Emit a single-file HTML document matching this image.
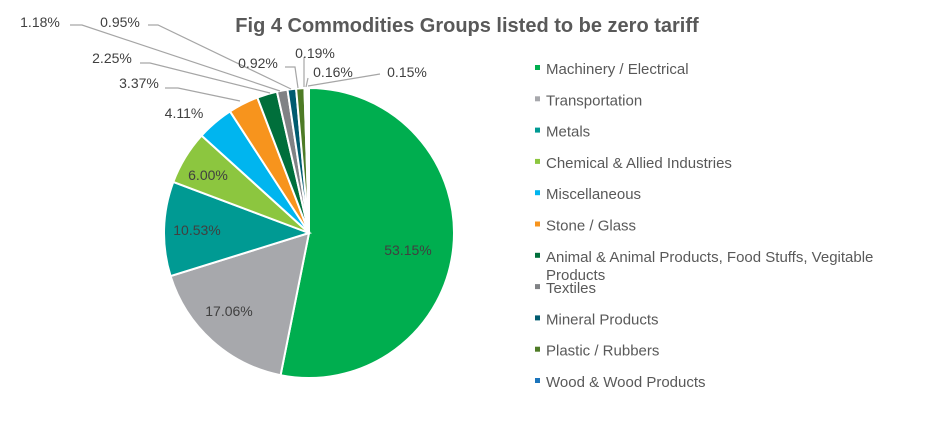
<!DOCTYPE html><html><head><style>body{margin:0;background:#fff}svg text{font-family:"Liberation Sans",Arial,sans-serif}</style></head><body>
<svg id="s" width="935" height="424" xmlns="http://www.w3.org/2000/svg">
<text x="467" y="32" text-anchor="middle" font-size="20" font-weight="bold" fill="#595959">Fig 4 Commodities Groups listed to be zero tariff</text>
<g id="pie"></g>
<g stroke="#a6a6a6" stroke-width="1.2" fill="none">
<polyline points="70,25 82,25 280,91"/>
<polyline points="148,25 158,25 291,89"/>
<polyline points="140,63 150,63 270,93"/>
<polyline points="165,88 178,88 240,101"/>
<polyline points="285,67 295,67 298,88"/>
<polyline points="304,57 304,87"/>
<polyline points="306,87 308,78"/>
<polyline points="380,74 308,86"/>
</g>
<g font-size="14" fill="#404040" text-anchor="middle">
<text x="408" y="255">53.15%</text><text x="229" y="316">17.06%</text><text x="197" y="235">10.53%</text><text x="208" y="180">6.00%</text><text x="184" y="118">4.11%</text><text x="139" y="88">3.37%</text><text x="112" y="63">2.25%</text><text x="40" y="27">1.18%</text><text x="120" y="27">0.95%</text><text x="258" y="68">0.92%</text><text x="315" y="58">0.19%</text><text x="333" y="77">0.16%</text><text x="407" y="77">0.15%</text>
</g>
<g id="leg" font-size="15" fill="#595959"></g>
</svg>
<script>
var v=[53.15,17.06,10.53,6,4.11,3.37,2.25,1.18,0.95,0.92,0.19,0.16,0.15];
var c=["#00ae4f","#a7a8ac","#009a93","#8cc63f","#00b5ef","#f7941d","#006f3b","#808285","#005b6f","#4e7b26","#1c75bc","#2f9e6b","#88aa44"];
var cx=309,cy=233,r=145,tot=0;v.forEach(function(x){tot+=x});var a=0,h="";
for(var i=0;i<v.length;i++){var a0=a,a1=a+v[i]/tot*2*Math.PI;a=a1;
var x0=cx+r*Math.sin(a0),y0=cy-r*Math.cos(a0),x1=cx+r*Math.sin(a1),y1=cy-r*Math.cos(a1);
h+='<path d="M'+cx+','+cy+'L'+x0+','+y0+'A'+r+','+r+' 0 '+((a1-a0)>Math.PI?1:0)+' 1 '+x1+','+y1+'Z" fill="'+c[i]+'" stroke="#fff" stroke-width="2"/>';}
document.getElementById('pie').innerHTML=h;
var L=["Machinery / Electrical","Transportation","Metals","Chemical &amp; Allied Industries","Miscellaneous","Stone / Glass","Animal &amp; Animal Products, Food Stuffs, Vegitable","Textiles","Mineral Products","Plastic / Rubbers","Wood &amp; Wood Products"];
var g="";for(var i=0;i<L.length;i++){var y=69+i*31.3;g+='<rect x="535" y="'+(y-4)+'" width="5" height="5" fill="'+c[i]+'"/><text x="546" y="'+(y+5)+'">'+L[i]+'</text>';if(i==6)g+='<text x="546" y="'+(y+23)+'">Products</text>';}
document.getElementById('leg').innerHTML=g;
</script>
</body></html>
